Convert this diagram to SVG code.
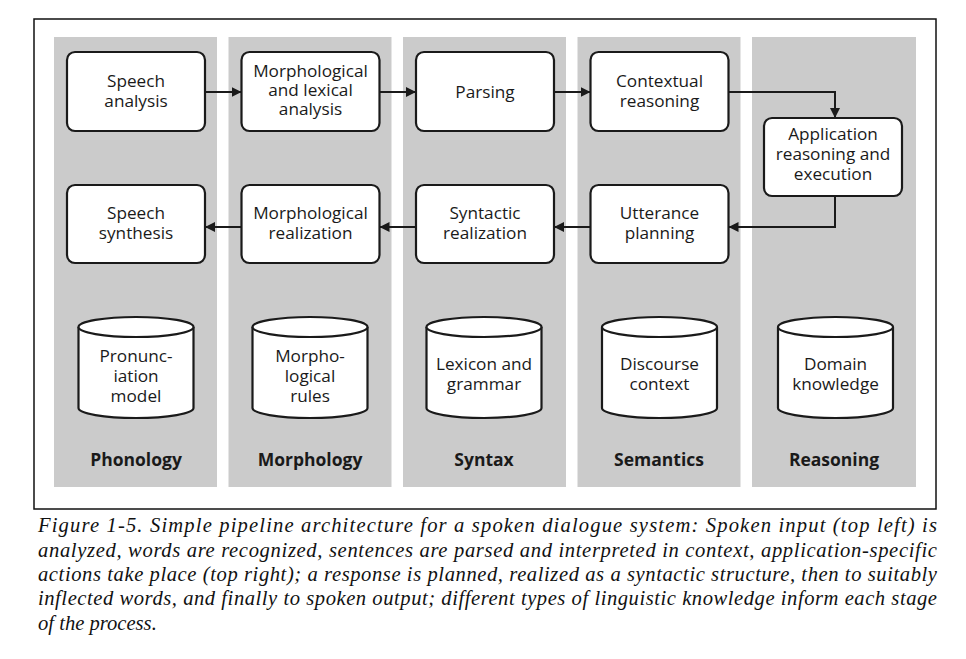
<svg xmlns="http://www.w3.org/2000/svg" width="966" height="659" viewBox="0 0 966 659">
<style>
.col{fill:#cbcbcb;}
.box{fill:#ffffff;stroke:#1a1a1a;stroke-width:2.2;}
.cyl{fill:#ffffff;stroke:#1a1a1a;stroke-width:2.2;}
.t{font-family:"Open Sans","Liberation Sans",sans-serif;font-size:17.2px;fill:#1a1a1a;text-anchor:middle;}
.lbl{font-family:"Open Sans","Liberation Sans",sans-serif;font-size:17.5px;font-weight:bold;fill:#1a1a1a;text-anchor:middle;}
.cap{font-family:"Liberation Serif","Times New Roman",serif;font-style:italic;font-size:20.6px;fill:#111;}
.conn{fill:none;stroke:#1a1a1a;stroke-width:2;}
</style>
<defs>
<marker id="ah" markerUnits="userSpaceOnUse" markerWidth="11" markerHeight="10" refX="10" refY="5" orient="auto">
<path d="M0,0 L10,5 L0,10 z" fill="#1a1a1a"/>
</marker>
</defs>
<rect x="0" y="0" width="966" height="659" fill="#ffffff"/>
<rect x="34" y="19" width="902" height="490" fill="none" stroke="#111" stroke-width="1.5"/>

<g id="columns">
<rect class="col" x="54" y="37" width="163" height="450"/>
<rect class="col" x="228.5" y="37" width="163" height="450"/>
<rect class="col" x="403" y="37" width="163" height="450"/>
<rect class="col" x="577.5" y="37" width="163" height="450"/>
<rect class="col" x="752" y="37" width="164" height="450"/>
</g>

<g id="connectors">
<line class="conn" x1="205" y1="92" x2="241.5" y2="92" marker-end="url(#ah)"/>
<line class="conn" x1="379.5" y1="92" x2="416" y2="92" marker-end="url(#ah)"/>
<line class="conn" x1="554" y1="92" x2="590.5" y2="92" marker-end="url(#ah)"/>
<polyline class="conn" points="728.5,92 835,92 835,118" marker-end="url(#ah)"/>
<polyline class="conn" points="835,196 835,227 728.5,227" marker-end="url(#ah)"/>
<line class="conn" x1="590.5" y1="227" x2="554" y2="227" marker-end="url(#ah)"/>
<line class="conn" x1="416" y1="227" x2="379.5" y2="227" marker-end="url(#ah)"/>
<line class="conn" x1="241.5" y1="227" x2="205" y2="227" marker-end="url(#ah)"/>
</g>

<g id="speech-analysis">
<rect class="box" x="67" y="52" width="138" height="79" rx="8"/>
<text class="t" x="136" y="87">Speech</text>
<text class="t" x="136" y="107">analysis</text>
</g>
<g id="morph-lex-analysis">
<rect class="box" x="241.5" y="52" width="138" height="79" rx="8"/>
<text class="t" x="310.5" y="77">Morphological</text>
<text class="t" x="310.5" y="96">and lexical</text>
<text class="t" x="310.5" y="115">analysis</text>
</g>
<g id="parsing">
<rect class="box" x="416" y="52" width="138" height="79" rx="8"/>
<text class="t" x="485" y="98">Parsing</text>
</g>
<g id="contextual-reasoning">
<rect class="box" x="590.5" y="52" width="138" height="79" rx="8"/>
<text class="t" x="659.5" y="87">Contextual</text>
<text class="t" x="659.5" y="107">reasoning</text>
</g>
<g id="application">
<rect class="box" x="764" y="118" width="138" height="78" rx="8"/>
<text class="t" x="833" y="140">Application</text>
<text class="t" x="833" y="160">reasoning and</text>
<text class="t" x="833" y="180">execution</text>
</g>
<g id="utterance-planning">
<rect class="box" x="590.5" y="185" width="138" height="78" rx="8"/>
<text class="t" x="659.5" y="219">Utterance</text>
<text class="t" x="659.5" y="239">planning</text>
</g>
<g id="syntactic-realization">
<rect class="box" x="416" y="185" width="138" height="78" rx="8"/>
<text class="t" x="485" y="219">Syntactic</text>
<text class="t" x="485" y="239">realization</text>
</g>
<g id="morph-realization">
<rect class="box" x="241.5" y="185" width="138" height="78" rx="8"/>
<text class="t" x="310.5" y="219">Morphological</text>
<text class="t" x="310.5" y="239">realization</text>
</g>
<g id="speech-synthesis">
<rect class="box" x="67" y="185" width="138" height="78" rx="8"/>
<text class="t" x="136" y="219">Speech</text>
<text class="t" x="136" y="239">synthesis</text>
</g>

<g id="pronunciation-model">
<path class="cyl" d="M78.5,327 L78.5,408 A57.5,10 0 0 0 193.5,408 L193.5,327"/>
<ellipse class="cyl" cx="136" cy="327" rx="57.5" ry="10"/>
<text class="t" x="136" y="362">Pronunc-</text>
<text class="t" x="136" y="382">iation</text>
<text class="t" x="136" y="402">model</text>
</g>
<g id="morphological-rules">
<path class="cyl" d="M252.5,327 L252.5,408 A57.5,10 0 0 0 367.5,408 L367.5,327"/>
<ellipse class="cyl" cx="310" cy="327" rx="57.5" ry="10"/>
<text class="t" x="310" y="362">Morpho-</text>
<text class="t" x="310" y="382">logical</text>
<text class="t" x="310" y="402">rules</text>
</g>
<g id="lexicon-grammar">
<path class="cyl" d="M426.5,327 L426.5,408 A57.5,10 0 0 0 541.5,408 L541.5,327"/>
<ellipse class="cyl" cx="484" cy="327" rx="57.5" ry="10"/>
<text class="t" x="484" y="370">Lexicon and</text>
<text class="t" x="484" y="390">grammar</text>
</g>
<g id="discourse-context">
<path class="cyl" d="M602,327 L602,408 A57.5,10 0 0 0 717,408 L717,327"/>
<ellipse class="cyl" cx="659.5" cy="327" rx="57.5" ry="10"/>
<text class="t" x="659.5" y="370">Discourse</text>
<text class="t" x="659.5" y="390">context</text>
</g>
<g id="domain-knowledge">
<path class="cyl" d="M778,327 L778,408 A57.5,10 0 0 0 893,408 L893,327"/>
<ellipse class="cyl" cx="835.5" cy="327" rx="57.5" ry="10"/>
<text class="t" x="835.5" y="370">Domain</text>
<text class="t" x="835.5" y="390">knowledge</text>
</g>

<g id="labels">
<text class="lbl" x="136" y="466">Phonology</text>
<text class="lbl" x="310" y="466">Morphology</text>
<text class="lbl" x="484" y="466">Syntax</text>
<text class="lbl" x="659" y="466">Semantics</text>
<text class="lbl" x="834" y="466">Reasoning</text>
</g>

<g id="caption">
<text class="cap" x="38" y="532" textLength="899" lengthAdjust="spacing">Figure 1-5. Simple pipeline architecture for a spoken dialogue system: Spoken input (top left) is</text>
<text class="cap" x="38" y="556.5" textLength="899" lengthAdjust="spacing">analyzed, words are recognized, sentences are parsed and interpreted in context, application-specific</text>
<text class="cap" x="38" y="581" textLength="899" lengthAdjust="spacing">actions take place (top right); a response is planned, realized as a syntactic structure, then to suitably</text>
<text class="cap" x="38" y="605" textLength="899" lengthAdjust="spacing">inflected words, and finally to spoken output; different types of linguistic knowledge inform each stage</text>
<text class="cap" x="38" y="629.5">of the process.</text>
</g>
</svg>
